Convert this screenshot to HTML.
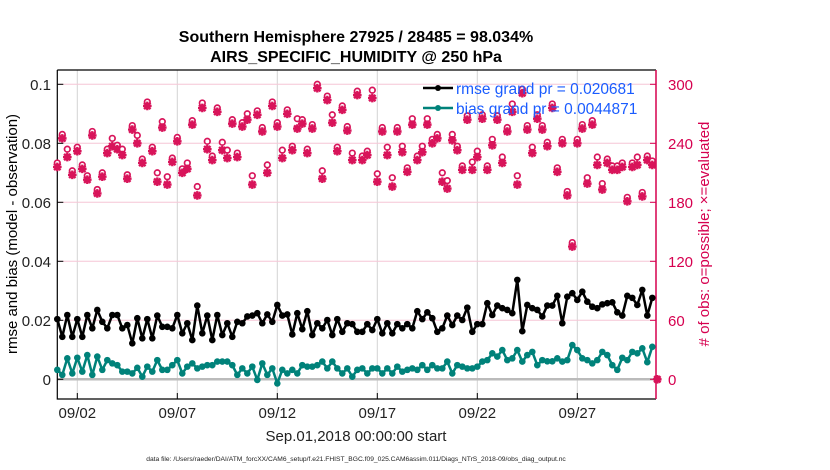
<!DOCTYPE html>
<html><head><meta charset="utf-8"><style>
html,body{margin:0;padding:0;background:#fff}
svg{display:block;font-family:"Liberation Sans",Arial,sans-serif}
</style></head><body>
<svg id="chart" width="830" height="470" viewBox="0 0 830 470">
<text x="356" y="42" text-anchor="middle" font-size="16" font-weight="bold">Southern Hemisphere 27925 / 28485 = 98.034%</text>
<text x="356" y="62" text-anchor="middle" font-size="16" font-weight="bold">AIRS_SPECIFIC_HUMIDITY @ 250 hPa</text>
<g id="grid"></g>
<g id="axes"></g>
<g id="marks"></g>
<text transform="translate(17,234) rotate(-90)" text-anchor="middle" font-size="15">rmse and bias (model - observation)</text>
<text transform="translate(709,234) rotate(-90)" text-anchor="middle" font-size="15" fill="#d6004f"># of obs: o=possible; ×=evaluated</text>
<text x="356" y="441" text-anchor="middle" font-size="15" fill="#222">Sep.01,2018 00:00:00 start</text>
<text x="356" y="461" text-anchor="middle" font-size="6.7" fill="#222">data file: /Users/raeder/DAI/ATM_forcXX/CAM6_setup/f.e21.FHIST_BGC.f09_025.CAM6assim.011/Diags_NTrS_2018-09/obs_diag_output.nc</text>
<g>
<line x1="423" y1="88" x2="453" y2="88" stroke="#000" stroke-width="2.5"/>
<circle cx="438" cy="88" r="3" fill="#000"/>
<line x1="423" y1="108" x2="453" y2="108" stroke="#00827a" stroke-width="2.5"/>
<circle cx="438" cy="108" r="3" fill="#00827a"/>
<text x="456" y="94" font-size="15.5" fill="#1a5cff">rmse grand pr = 0.020681</text>
<text x="456" y="114" font-size="15.5" fill="#1a5cff">bias grand pr = 0.0044871</text>
</g>
</svg>
<script>
const xTickLabels = ["09/02","09/07","09/12","09/17","09/22","09/27"];
const xTickDays = [1,6,11,16,21,26];
const leftTicks = [0,0.02,0.04,0.06,0.08,0.1];
const leftTickLabels = ["0","0.02","0.04","0.06","0.08","0.1"];
const rightTicks = [0,60,120,180,240,300];
const rmse = [0.0204,0.0144,0.0218,0.0144,0.0204,0.0144,0.0218,0.0173,0.0235,0.0195,0.0173,0.0218,0.0218,0.0173,0.0184,0.0122,0.0207,0.0139,0.0204,0.0139,0.0216,0.0178,0.0178,0.0173,0.0218,0.0156,0.0190,0.0133,0.0250,0.0156,0.0216,
0.0133,0.0218,0.0150,0.0190,0.0144,0.0195,0.0190,0.0213,0.0216,0.0224,0.0190,0.0220,0.0195,0.0252,0.0216,0.0220,0.0152,0.0224,0.0170,0.0231,0.0150,0.0190,0.0173,0.0201,0.0150,0.0204,0.0161,0.0190,0.0187,0.0161,
0.0161,0.0187,0.0167,0.0204,0.0156,0.0190,0.0156,0.0187,0.0173,0.0187,0.0173,0.0231,0.0204,0.0227,0.0207,0.0161,0.0173,0.0216,0.0184,0.0216,0.0201,0.0243,0.0161,0.0187,0.0187,0.0258,0.0218,0.0250,0.0241,0.0235,
0.0224,0.0337,0.0163,0.0252,0.0241,0.0235,0.0213,0.0250,0.0250,0.0283,0.0190,0.0280,0.0292,0.0269,0.0297,0.0263,0.0246,0.0241,0.0254,0.0258,0.0261,0.0227,0.0216,0.0283,0.0276,0.0252,0.0303,0.0216,0.0276];
const bias = [0.0032,0.0015,0.0071,0.0020,0.0073,0.0026,0.0082,0.0015,0.0077,0.0032,0.0065,0.0054,0.0048,0.0026,0.0026,0.0020,0.0039,0.0009,0.0043,0.0026,0.0065,0.0032,0.0032,0.0048,0.0065,0.0020,0.0043,0.0054,0.0037,0.0043,0.0048,
0.0048,0.0060,0.0060,0.0060,0.0048,0.0015,0.0037,0.0020,0.0043,-0.0002,0.0054,0.0015,0.0037,-0.0014,0.0032,0.0020,0.0032,0.0020,0.0048,0.0043,0.0043,0.0048,0.0060,0.0037,0.0060,0.0037,0.0020,0.0037,0.0009,0.0032,
0.0037,0.0020,0.0037,0.0037,0.0020,0.0037,0.0020,0.0043,0.0026,0.0032,0.0037,0.0032,0.0048,0.0032,0.0048,0.0037,0.0037,0.0060,0.0020,0.0048,0.0043,0.0037,0.0037,0.0043,0.0060,0.0065,0.0088,0.0077,0.0099,0.0065,
0.0071,0.0099,0.0060,0.0082,0.0093,0.0048,0.0065,0.0061,0.0061,0.0071,0.0060,0.0065,0.0116,0.0099,0.0071,0.0065,0.0054,0.0065,0.0093,0.0082,0.0048,0.0032,0.0073,0.0065,0.0093,0.0088,0.0105,0.0058,0.0110];
const evaluated = [216,245,226,208,232,214,203,248,189,206,230,237,234,228,204,254,240,220,278,232,201,256,198,221,242,210,214,259,187,276,234,
223,272,233,225,260,226,257,264,198,269,252,210,278,257,225,270,233,255,260,230,255,296,204,284,261,232,274,253,223,289,
223,228,286,201,252,228,196,252,231,211,259,223,231,259,240,245,201,194,243,233,213,264,213,226,265,213,238,264,220,252,
272,198,291,254,230,265,254,237,276,211,240,187,135,240,255,199,259,218,193,220,213,213,216,181,216,218,186,223,218,0];
const possible = [220,249,234,212,236,218,207,252,193,210,234,245,238,234,208,258,248,224,282,236,210,262,206,225,246,214,220,263,196,281,242,
227,276,241,233,264,230,261,270,207,273,256,218,282,261,233,274,237,265,264,234,259,300,212,288,269,236,278,257,230,293,
227,232,294,209,256,236,205,256,237,215,265,227,237,265,244,249,210,202,249,237,217,268,221,232,269,217,244,268,226,256,
280,207,295,258,236,269,258,241,280,215,244,191,139,244,259,205,263,226,199,224,217,217,220,185,220,226,190,227,222,0];

const L=57.3,R=656,T=70,B=399;
const X0=57.3, PXDAY=20;
const Y0=379.3, PXUNIT=2950, PXCNT=2950*0.1/300;
function xScale(day){return X0+day*PXDAY;}
function yL(v){return Y0-v*PXUNIT;}
function yR(c){return Y0-c*PXCNT;}
const NS="http://www.w3.org/2000/svg";
function mk(tag,attrs,parent){const e=document.createElementNS(NS,tag);for(const k in attrs)e.setAttribute(k,attrs[k]);parent.appendChild(e);return e;}
const grid=document.getElementById('grid'),axes=document.getElementById('axes'),marks=document.getElementById('marks');
const red="#d6004f", mred="#d8145a";
xTickDays.forEach((d,i)=>{
  const x=xScale(d);
  const g=mk('line',{x1:x,y1:T,x2:x,y2:B,stroke:"#d4d4d4","stroke-width":1},grid);
  
  
  const tk=mk('line',{x1:x,y1:B,x2:x,y2:B-6,stroke:"#000","stroke-width":1},axes);
  
  
  const t=mk('text',{x:x,y:418,"text-anchor":"middle","font-size":15,fill:"#222"},axes);
  t.textContent=xTickLabels[i];
  
  
});
rightTicks.forEach(c=>{
  const y=yR(c);
  if(c>0){
    const g=mk('line',{x1:L,y1:y,x2:R,y2:y,stroke:"#f5c6d6","stroke-width":1},grid);
    
    
  }
  const tk=mk('line',{x1:R,y1:y,x2:R-6,y2:y,stroke:red,"stroke-width":1},axes);
  
  
  const t=mk('text',{x:668,y:y+5.5,"font-size":15,fill:red},axes);
  t.textContent=String(c);
  
  
});
leftTicks.forEach((v,i)=>{
  const y=yL(v);
  const tk=mk('line',{x1:L,y1:y,x2:L+6,y2:y,stroke:"#000","stroke-width":1},axes);
  
  
  const t=mk('text',{x:51,y:y+5.5,"text-anchor":"end","font-size":15,fill:"#222"},axes);
  t.textContent=leftTickLabels[i];
  
  
});
const zl=mk('line',{x1:L,y1:yL(0),x2:R,y2:yL(0),stroke:"#bbb","stroke-width":2.5},grid);


const fr=mk('path',{d:`M${L},${T}H${R}M${L},${T}V${B}H${R}`,stroke:"#000","stroke-width":1.2,fill:"none"},axes);


const ra=mk('line',{x1:R,y1:T,x2:R,y2:B,stroke:red,"stroke-width":1.5},axes);


for(let i=0;i<evaluated.length;i++){
  const x=xScale(i*0.25);
  const yp=yR(possible[i]);
  const c=mk('circle',{cx:x,cy:yp,r:2.8,fill:"#fff",stroke:mred,"stroke-width":1.7},marks);
  
  
  const ye=yR(evaluated[i]);
  const s=4.3;
  const a=mk('path',{d:`M${x-s},${ye}H${x+s}M${x},${ye-s}V${ye+s}M${x-3.2},${ye-3.2}L${x+3.2},${ye+3.2}M${x-3.2},${ye+3.2}L${x+3.2},${ye-3.2}`,stroke:mred,"stroke-width":2.4},marks);
  
  
}
function series(vals,color,name){
  let d="";
  vals.forEach((v,i)=>{d+=(i?"L":"M")+xScale(i*0.25)+","+yL(v);});
  const p=mk('path',{d:d,stroke:color,"stroke-width":2.5,fill:"none","stroke-linejoin":"round"},marks);
  
  
  vals.forEach((v,i)=>{
    const c=mk('circle',{cx:xScale(i*0.25),cy:yL(v),r:3.3,fill:color},marks);
    
    
  });
}
series(bias,"#00827a","bias");
series(rmse,"#000","rmse");
</script>
</body></html>
